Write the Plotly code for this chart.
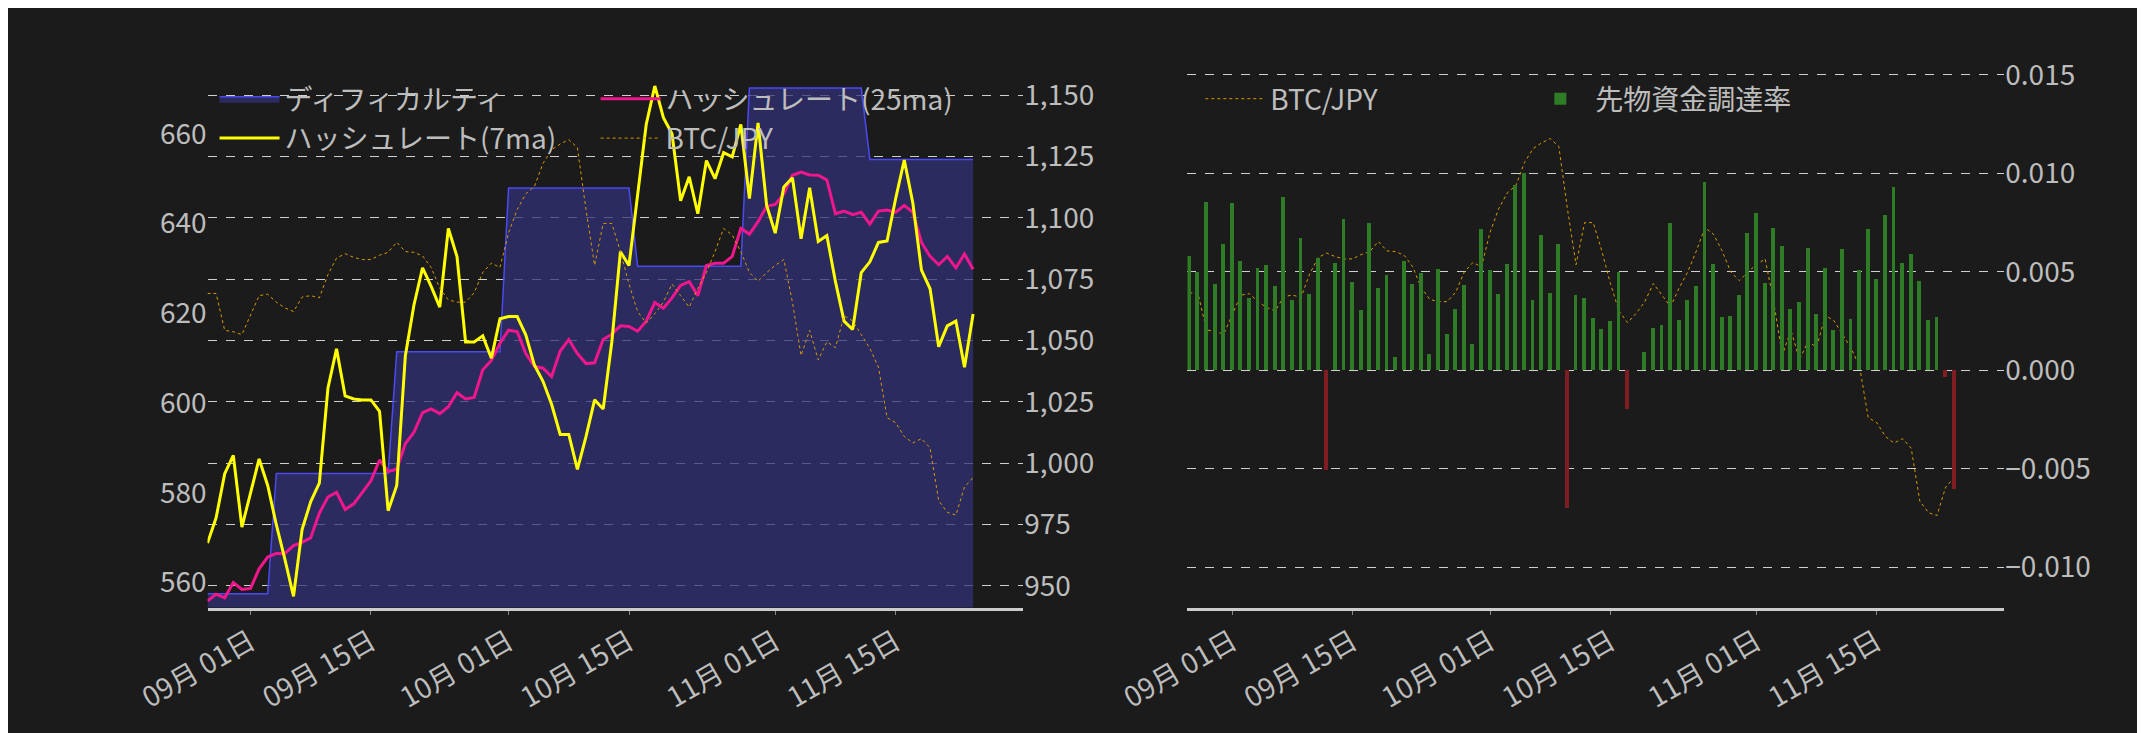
import pandas as pd
import plotly.graph_objects as go

dates = pd.date_range("2025-08-27", periods=90, freq="D")

# difficulty (Z)
difficulty = [557.5] * 8 + [584.3] * 14 + [611.4] * 13 + [647.9] * 15 + [630.5] * 13 + [670.2] * 14 + [654.3] * 13

# hashrate 7 day moving average (Eh/s)
hash_7ma = [967.4, 977.7, 995.7, 1003.2, 973.9, 988.1, 1001.7, 990.9, 974.9, 960.8,
            945.7, 973.0, 984.3, 991.9, 1030.6, 1046.6, 1027.4, 1026.2, 1025.8, 1025.8,
            1021.1, 980.6, 990.9, 1043.8, 1064.5, 1079.6, 1072.1, 1063.6, 1095.7, 1084.3,
            1049.4, 1049.4, 1051.9, 1042.8, 1058.9, 1059.8, 1059.8, 1052.3, 1040.0, 1033.4,
            1024.0, 1011.7, 1011.7, 997.5, 1010.8, 1025.8, 1022.1, 1049.4, 1086.2, 1080.6,
            1109.8, 1138.1, 1153.8, 1140.9, 1134.3, 1107.0, 1116.8, 1101.7, 1123.4, 1116.0,
            1126.6, 1124.9, 1138.1, 1107.9, 1138.7, 1105.1, 1093.8, 1112.6, 1116.4, 1091.5,
            1112.3, 1090.4, 1092.8, 1074.0, 1057.9, 1054.5, 1077.7, 1082.1, 1090.0, 1090.6,
            1107.9, 1123.6, 1106.0, 1078.7, 1071.1, 1047.5, 1056.0, 1057.9, 1039.1, 1060.8]

# hashrate 25 day moving average (Eh/s)
hash_25ma = [943.8, 946.6, 945.1, 951.3, 948.5, 948.9, 956.9, 961.7, 963.2, 963.2,
             966.4, 967.7, 969.6, 979.6, 986.2, 988.1, 981.1, 983.4, 988.1, 992.8,
             1001.3, 996.6, 997.5, 1007.9, 1012.6, 1020.6, 1022.1, 1020.2, 1023.0, 1028.7,
             1026.2, 1026.8, 1038.1, 1041.9, 1048.9, 1054.2, 1053.6, 1044.7, 1039.4, 1038.7,
             1035.3, 1045.7, 1050.4, 1044.7, 1040.6, 1040.9, 1050.4, 1052.6, 1056.0, 1055.7,
             1053.8, 1057.9, 1065.5, 1063.2, 1067.4, 1072.5, 1074.0, 1068.3, 1080.6, 1081.5,
             1081.5, 1084.3, 1095.7, 1093.4, 1098.5, 1104.7, 1105.5, 1109.8, 1117.4, 1118.7,
             1117.5, 1117.4, 1115.5, 1101.7, 1102.8, 1101.3, 1102.3, 1097.5, 1102.8, 1103.2,
             1102.3, 1105.1, 1102.3, 1090.0, 1084.3, 1080.9, 1084.3, 1079.6, 1085.3, 1079.1]

# BTC/JPY (万円)
btc_jpy = [1647, 1647, 1596, 1594, 1590, 1616, 1644, 1646, 1635, 1627,
           1622, 1642, 1644, 1641, 1673, 1696, 1702, 1697, 1694, 1694,
           1700, 1704, 1718, 1705, 1704, 1699, 1683, 1654, 1638, 1635,
           1635, 1648, 1676, 1689, 1683, 1731, 1763, 1785, 1795, 1827,
           1846, 1854, 1860, 1849, 1763, 1686, 1744, 1744, 1705, 1660,
           1622, 1606, 1619, 1635, 1660, 1644, 1628, 1654, 1676, 1705,
           1737, 1728, 1705, 1676, 1664, 1676, 1686, 1694, 1635, 1561,
           1596, 1555, 1580, 1572, 1616, 1609, 1590, 1571, 1545, 1475,
           1468, 1449, 1440, 1446, 1433, 1360, 1344, 1340, 1379, 1392]

# futures funding rate
funding = [0.00577, 0.00500, 0.00854, 0.00437, 0.00638, 0.00850, 0.00552, 0.00368, 0.00516, 0.00533,
           0.00427, 0.00878, 0.00357, 0.00669, 0.00387, 0.00568, -0.00509, 0.00542, 0.00767, 0.00446,
           0.00307, 0.00749, 0.00418, 0.00481, 0.00066, 0.00552, 0.00437, 0.00493, 0.00080, 0.00512,
           0.00185, 0.00312, 0.00430, 0.00131, 0.00718, 0.00507, 0.00387, 0.00537, 0.00939, 0.01002,
           0.00357, 0.00688, 0.00392, 0.00638, -0.00699, 0.00383, 0.00366, 0.00265, 0.00207, 0.00249,
           0.00500, -0.00199, 0.0, 0.00092, 0.00216, 0.00230, 0.00749, 0.00256, 0.00357, 0.00427,
           0.00953, 0.00540, 0.00272, 0.00277, 0.00383, 0.00697, 0.00798, 0.00441, 0.00723, 0.00629,
           0.00312, 0.00347, 0.00622, 0.00286, 0.00516, 0.00202, 0.00613, 0.00261, 0.00509, 0.00718,
           0.00462, 0.00789, 0.00929, 0.00542, 0.00587, 0.00453, 0.00253, 0.00272, -0.00033, -0.00601]

tick_dates = ["2025-09-01", "2025-09-15", "2025-10-01", "2025-10-15", "2025-11-01", "2025-11-15"]

BG = "#1b1b1b"
TXT = "#bdbdbd"
FONT = "Noto Sans CJK JP"
FS = 28

fig = go.Figure()

# left chart
fig.add_scatter(x=dates, y=difficulty, name="ディフィカルティ", xaxis="x", yaxis="y",
                mode="lines", line=dict(color="#4a4af0", width=1.5),
                fill="tozeroy", fillcolor="rgba(50,50,120,0.75)", legend="legend", legendrank=1)
fig.add_scatter(x=dates, y=hash_25ma, name="ハッシュレート(25ma)", xaxis="x", yaxis="y2",
                mode="lines", line=dict(color="#f0168c", width=3), legend="legend3", legendrank=1)
fig.add_scatter(x=dates, y=hash_7ma, name="ハッシュレート(7ma)", xaxis="x", yaxis="y2",
                mode="lines", line=dict(color="#ffff00", width=3), legend="legend", legendrank=2)
fig.add_scatter(x=dates, y=btc_jpy, name="BTC/JPY", xaxis="x", yaxis="y3",
                mode="lines", line=dict(color="#d99a00", width=1, dash="dot"), legend="legend3", legendrank=2)

# right chart
bar_colors = ["#2e7d26" if v >= 0 else "#7f1d22" for v in funding]
fig.add_bar(x=dates, y=funding, name="先物資金調達率", xaxis="x2", yaxis="y5",
            marker=dict(color=bar_colors, line=dict(width=0)), width=0.45 * 86400000,
            legend="legend2", legendrank=2)
fig.add_scatter(x=dates, y=btc_jpy, name="BTC/JPY", xaxis="x2", yaxis="y4",
                mode="lines", line=dict(color="#d99a00", width=1, dash="dot"),
                legend="legend2", legendrank=1)

xcommon = dict(type="date", tickvals=tick_dates, tickformat="%m月 %d日", tickangle=-30,
               showgrid=False, showline=True, linecolor="#cccccc", linewidth=3,
               ticks="outside", ticklen=4, tickcolor="#888", zeroline=False)
ydomain = [0.184, 0.939]
leg = dict(bgcolor="rgba(0,0,0,0)", font=dict(size=FS, color=TXT), xanchor="left", yanchor="top",
           tracegroupgap=0, itemwidth=60)

fig.update_layout(
    width=2145, height=733,
    paper_bgcolor=BG, plot_bgcolor=BG,
    font=dict(family=FONT, size=FS, color=TXT),
    margin=dict(l=0, r=0, t=0, b=0),
    bargap=0,
    xaxis=dict(domain=[0.0606, 0.4545], range=["2025-08-27", "2025-11-29 20:00"], anchor="y", **xcommon),
    yaxis=dict(domain=ydomain, range=[554.4, 676.4], tickvals=[560, 580, 600, 620, 640, 660],
               ticksuffix="Z", showgrid=False, zeroline=False, side="left"),
    yaxis2=dict(overlaying="y", side="right", range=[941.1, 1164.3],
                tickvals=[950, 975, 1000, 1025, 1050, 1075, 1100, 1125, 1150],
                tickformat=",d", ticksuffix="Eh/s", showgrid=True, gridcolor="#d0d0d0",
                griddash="dash", gridwidth=1, zeroline=False, anchor="x"),
    yaxis3=dict(overlaying="y", range=[1212, 1970], visible=False, anchor="x"),
    xaxis2=dict(domain=[0.5338, 0.9282], range=["2025-08-26 19:00", "2025-11-29 20:00"], anchor="y4", **xcommon),
    yaxis4=dict(domain=ydomain, range=[1213, 1968], visible=False, anchor="x2"),
    yaxis5=dict(overlaying="y4", side="right", anchor="x2", range=[-0.01204, 0.01574],
                tickvals=[-0.010, -0.005, 0, 0.005, 0.010, 0.015], tickformat=".3f",
                showgrid=True, gridcolor="#d0d0d0", griddash="dash", gridwidth=1, zeroline=False),
    legend=dict(orientation="v", x=0.064, y=0.92, **leg),
    legend3=dict(orientation="v", x=0.248, y=0.92, **leg),
    legend2=dict(orientation="h", x=0.540, y=0.92, entrywidth=250, entrywidthmode="pixels", **leg),
)

fig.write_html("out.html")
